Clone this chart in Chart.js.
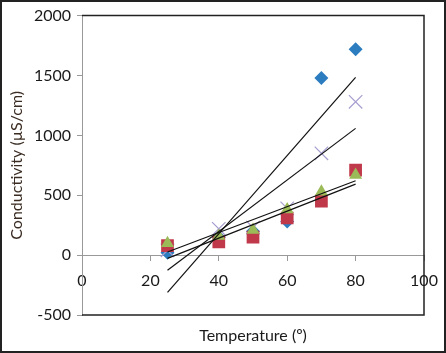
<!DOCTYPE html>
<html>
<head>
<meta charset="utf-8">
<script src="https://cdn.jsdelivr.net/npm/chart.js@4"></script>
<style>
  body { margin: 0; background: #fff; }
  #wrap { position: relative; width: 446px; height: 353px; }
</style>
</head>
<body>
<div id="wrap"><canvas id="chart" width="446" height="353"></canvas></div>
<script>
// temperatures (x) shared by all series
var temps = [25, 40, 50, 60, 70, 80];
var seriesBlue = [20, 150, 200, 280, 1480, 1720];
var seriesRed = [80, 110, 150, 310, 450, 710];
var seriesPurple = [40, 220, 230, 390, 850, 1280];
var seriesGreen = [100, 160, 210, 380, 530, 670];
var xTicks = [0, 20, 40, 60, 80, 100];
var yTicks = [-500, 0, 500, 1000, 1500, 2000];

function toPoints(ys) {
  var pts = [];
  for (var i = 0; i < temps.length; i++) {
    pts.push({ x: temps[i], y: ys[i] });
  }
  return pts;
}

// linear least squares trendline, like the spreadsheet one
function trend(ys) {
  var n = temps.length, sx = 0, sy = 0, sxx = 0, sxy = 0;
  for (var i = 0; i < n; i++) {
    sx += temps[i]; sy += ys[i];
    sxx += temps[i] * temps[i]; sxy += temps[i] * ys[i];
  }
  var b = (n * sxy - sx * sy) / (n * sxx - sx * sx);
  var a = (sy - b * sx) / n;
  var x0 = temps[0], x1 = temps[n - 1];
  return [{ x: x0, y: a + b * x0 }, { x: x1, y: a + b * x1 }];
}

function trendSet(ys) {
  return {
    type: "line",
    data: trend(ys),
    borderColor: "#111",
    borderWidth: 1.2,
    pointRadius: 0,
    fill: false,
    order: 0
  };
}

var frame = {
  id: "frame",
  afterDraw: function (chart) {
    var ctx = chart.ctx;
    var a = chart.chartArea;
    ctx.save();
    ctx.strokeStyle = "#222";
    ctx.lineWidth = 1.5;
    ctx.beginPath();
    ctx.moveTo(a.left, a.top);
    ctx.lineTo(a.right, a.top);
    ctx.lineTo(a.right, a.bottom);
    ctx.lineTo(a.left, a.bottom);
    ctx.stroke();
    ctx.lineWidth = 2;
    ctx.strokeRect(1, 1, chart.width - 2, chart.height - 2);
    ctx.restore();
  }
};

var font = { family: "Lato, 'Open Sans', sans-serif", size: 16 };

new Chart(document.getElementById("chart"), {
  type: "scatter",
  data: {
    datasets: [
      trendSet(seriesBlue),
      trendSet(seriesPurple),
      trendSet(seriesRed),
      trendSet(seriesGreen),
      {
        data: toPoints(seriesGreen),
        pointStyle: "triangle",
        pointRadius: 7.5,
        backgroundColor: "#9bbb59",
        borderColor: "#9bbb59",
        borderWidth: 0,
        order: 1
      },
      {
        data: toPoints(seriesRed),
        pointStyle: "rect",
        pointRadius: 9,
        backgroundColor: "#c0394a",
        borderColor: "#c0394a",
        borderWidth: 0,
        order: 2
      },
      {
        data: toPoints(seriesPurple),
        pointStyle: "crossRot",
        pointRadius: 9.5,
        backgroundColor: "#a79dd0",
        borderColor: "#a79dd0",
        borderWidth: 1.2,
        order: 3
      },
      {
        data: toPoints(seriesBlue),
        pointStyle: "rectRot",
        pointRadius: 7,
        backgroundColor: "#2c7cc0",
        borderColor: "#2c7cc0",
        borderWidth: 0,
        order: 4
      }
    ]
  },
  plugins: [frame],
  options: {
    responsive: false,
    animation: false,
    layout: { padding: { top: 14, right: 22, left: 0, bottom: 0 } },
    plugins: { legend: { display: false }, tooltip: { enabled: false } },
    scales: {
      x: {
        type: "linear",
        position: { y: 0 },
        min: 0,
        max: 100,
        afterBuildTicks: function (scale) {
          scale.ticks = xTicks.map(function (v) { return { value: v }; });
        },
        afterFit: function (scale) { scale.paddingRight = 0; scale.paddingLeft = 0; },
        border: { color: "#999", width: 1 },
        grid: { display: true, drawOnChartArea: false, color: "#999", tickLength: 5 },
        ticks: { font: font, color: "#1a1a1a", padding: 11 }
      },
      xb: {
        type: "linear",
        position: "bottom",
        min: 0,
        max: 100,
        border: { display: false },
        grid: { display: false },
        ticks: { display: false },
        afterFit: function (scale) { scale.height = 38; },
        title: {
          display: true,
          text: "Temperature (º)",
          font: font,
          color: "#1a1a1a",
          padding: { top: 0, bottom: 8 }
        }
      },
      y: {
        type: "linear",
        min: -500,
        max: 2000,
        afterBuildTicks: function (scale) {
          scale.ticks = yTicks.map(function (v) { return { value: v }; });
        },
        afterFit: function (scale) { scale.width = 82; },
        border: { color: "#999", width: 1 },
        grid: { display: true, drawOnChartArea: false, color: "#999", tickLength: 5 },
        ticks: {
          font: font,
          color: "#1a1a1a",
          padding: 6,
          callback: function (v) { return String(v); }
        },
        title: {
          display: true,
          text: "Conductivity (µS/cm)",
          font: font,
          color: "#3a2c22",
          padding: { top: 7, bottom: 0 }
        }
      }
    }
  }
});
</script>
</body>
</html>
